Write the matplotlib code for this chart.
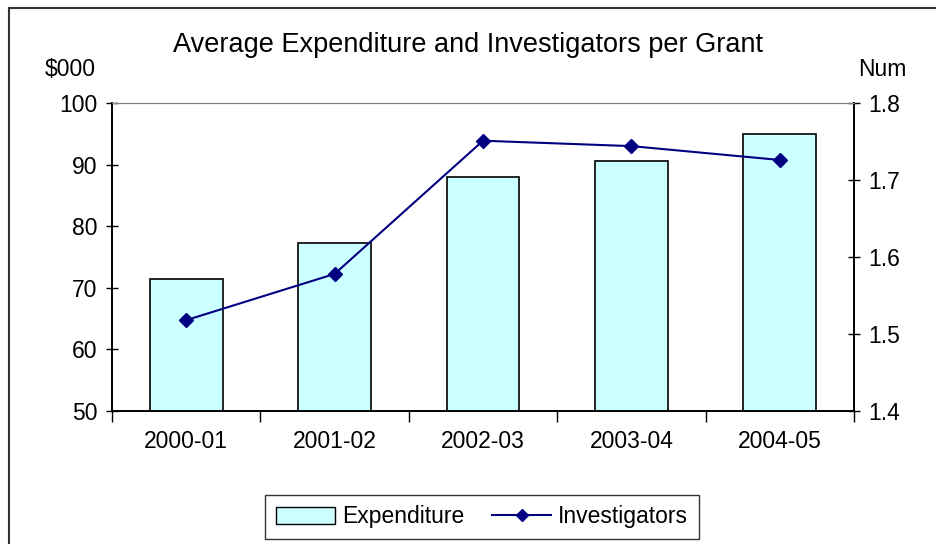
import matplotlib.pyplot as plt
from matplotlib.lines import Line2D
from matplotlib.patches import Patch

plt.rcParams["font.family"] = ["Liberation Sans", "DejaVu Sans"]

# データ
years = ["2000-01", "2001-02", "2002-03", "2003-04", "2004-05"]
expenditure = [71.4, 77.3, 88.0, 90.6, 94.9]
investigators = [1.518, 1.578, 1.751, 1.744, 1.726]

fig = plt.figure(figsize=(9.36, 5.44), dpi=100)
ax = fig.add_axes([112 / 936, 1 - 411 / 544, (854 - 112) / 936, (411 - 103) / 544])
ax2 = ax.twinx()

x = list(range(len(years)))
ax.bar(x, expenditure, width=0.49, color="#CCFFFF", edgecolor="black", linewidth=1.2, zorder=2)
ax2.plot(x, investigators, color="#000080", marker="D", markersize=7, linewidth=1.5, zorder=3)

ax.set_xlim(-0.5, 4.5)
ax.set_ylim(50, 100)
ax.set_yticks(range(50, 101, 10))
ax2.set_ylim(1.4, 1.8)
ax2.set_yticks([1.4, 1.5, 1.6, 1.7, 1.8])
ax2.set_yticklabels(["1.4", "1.5", "1.6", "1.7", "1.8"])

# x軸: カテゴリ間の目盛り
ax.set_xticks([i + 0.5 for i in range(-1, 5)], minor=False)
ax.set_xticklabels([])
ax.set_xticks(x, minor=True)
ax.set_xticklabels(years, minor=True)
ax.tick_params(axis="x", which="major", direction="out", length=8, width=1)
ax.tick_params(axis="x", which="minor", length=0, pad=14, labelsize=16.5)
ax.tick_params(axis="y", direction="inout", length=9, width=1, labelsize=16.5, pad=6)
ax2.tick_params(axis="y", direction="inout", length=9, width=1, labelsize=16.5, pad=6)

for a in (ax, ax2):
    a.spines["top"].set_color("#808080")
    a.spines["left"].set_linewidth(1.2)
    a.spines["right"].set_linewidth(1.2)
    a.spines["bottom"].set_linewidth(1.2)

fig.text(0.5, 1 - 45 / 544, "Average Expenditure and Investigators per Grant",
         ha="center", va="center", fontsize=19.5)
fig.text(70 / 936, 1 - 70 / 544, "$000", ha="center", va="center", fontsize=16.5)
fig.text(882 / 936, 1 - 70 / 544, "Num", ha="center", va="center", fontsize=16.5)

handles = [
    Patch(facecolor="#CCFFFF", edgecolor="black", label="Expenditure"),
    Line2D([0], [0], color="#000080", marker="D", markersize=6, linewidth=1.5, label="Investigators"),
]
leg = fig.legend(handles=handles, loc="center", bbox_to_anchor=(482 / 936, 1 - 517 / 544),
                 ncol=2, fontsize=16.5, frameon=True, fancybox=False, edgecolor="black",
                 handlelength=2.6, handletextpad=0.3, columnspacing=1.2, borderpad=0.45)
leg.get_frame().set_linewidth(1.0)

# 外枠（左と上のみ）
fig.add_artist(Line2D([8.5 / 936, 8.5 / 936], [0, 1 - 8 / 544], color="#333333", linewidth=1.5))
fig.add_artist(Line2D([8.5 / 936, 1], [1 - 8 / 544, 1 - 8 / 544], color="#333333", linewidth=1.5))

fig.savefig("out.png", dpi=100)
